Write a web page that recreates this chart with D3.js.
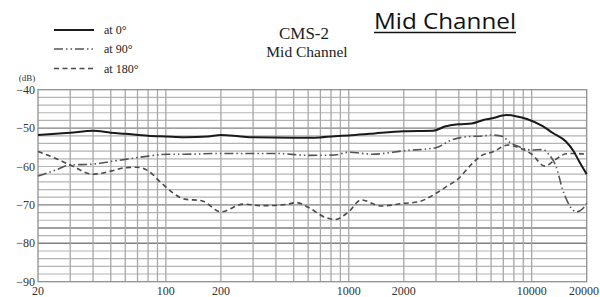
<!DOCTYPE html>
<html><head><meta charset="utf-8">
<script src="https://cdn.jsdelivr.net/npm/d3@7"></script>
<style>html,body{margin:0;padding:0;background:#fff;}svg{display:block;}</style>
</head><body>
<svg id="c" width="600" height="297"></svg>
<script>
// ---- data ----
const freq0 = [20,25,30,40,50,60,80,100,127,170,200,250,300,500,650,840,1000,1300,2000,2900,3350,4000,4700,5500,6000,7300,8200,9500,11500,13000,15400,17000,18200,20000];
const db0   = [-51.8,-51.5,-51.2,-50.7,-51.2,-51.5,-52.0,-52.2,-52.4,-52.2,-51.8,-52.1,-52.4,-52.5,-52.5,-52.1,-51.9,-51.5,-50.8,-50.7,-49.6,-49.0,-48.8,-47.8,-47.5,-46.6,-46.9,-47.7,-49.5,-51.2,-53.5,-56.1,-58.7,-62.0];
const freq90 = [20,25,30,40,50,65,80,103,127,200,400,600,840,1000,1350,2000,3000,3650,4300,5500,6000,7000,7400,8500,10000,11500,12500,13600,14800,16500,17600,19000,20000];
const db90   = [-62.5,-60.9,-59.6,-59.4,-58.7,-57.9,-57.3,-56.8,-56.8,-56.6,-56.6,-57.1,-57.0,-56.3,-56.8,-55.9,-55.1,-53.1,-52.3,-52.0,-51.8,-52.2,-53.3,-54.8,-55.7,-55.6,-57.0,-60.0,-66.1,-70.9,-71.8,-71.0,-69.6];
const freq180 = [20,25,30,40,50,60,70,80,95,127,157,200,265,335,450,520,600,740,840,1000,1170,1500,2000,2400,3000,3400,3950,4650,5260,6200,7400,8400,10000,11800,13400,15400,17000,20000];
const db180   = [-56.1,-57.9,-59.6,-62.0,-61.2,-60.3,-60.2,-61.1,-64.4,-68.5,-68.9,-71.8,-69.8,-70.2,-69.9,-69.4,-70.6,-73.2,-73.8,-71.8,-68.7,-70.3,-69.6,-69.2,-67.0,-65.3,-63.3,-59.6,-57.3,-56.1,-54.4,-55.0,-56.8,-59.9,-58.3,-56.7,-56.6,-56.8];
const seriesNames = ["at 0°","at 90°","at 180°"];
const xTickLabels = [20,100,200,1000,2000,10000,20000];
const yTickLabels = [-40,-50,-60,-70,-80,-90];
const xGrid = [30,40,50,60,70,80,90,100,200,300,400,500,600,700,800,900,1000,2000,3000,4000,5000,6000,7000,8000,9000,10000];
const yGrid = d3.range(-88,-40,2);
const yGridDark = [-50,-70,-76,-80];

// ---- layout ----
const svg = d3.select("#c");
const L=38, R=586.7, T=89.7, B=281.7;
const x = d3.scaleLog().domain([20,20000]).range([L,R]);
const y = d3.scaleLinear().domain([-90,-40]).range([B,T]);

const serif = "'Liberation Serif','DejaVu Serif',serif";

// grid
const g = svg.append("g");
g.selectAll("line.h").data(yGrid).enter().append("line")
  .attr("x1",L).attr("x2",R).attr("y1",d=>y(d)).attr("y2",d=>y(d))
  .attr("stroke",d=>yGridDark.includes(d)?"#808080":"#b4b4b4")
  .attr("stroke-width",d=>yGridDark.includes(d)?1.4:1.2);
g.selectAll("line.v").data(xGrid).enter().append("line")
  .attr("y1",T).attr("y2",B).attr("x1",d=>x(d)).attr("x2",d=>x(d))
  .attr("stroke","#a8a8a8").attr("stroke-width",1.3);
g.append("rect").attr("x",L).attr("y",T).attr("width",R-L).attr("height",B-T)
  .attr("fill","none").attr("stroke","#909090").attr("stroke-width",1.3);

// axes labels
svg.append("g").selectAll("text").data(yTickLabels).enter().append("text")
  .attr("x",35).attr("y",d=>y(d)+4).attr("text-anchor","end")
  .attr("font-family",serif).attr("font-size",12).attr("fill","#333")
  .text(d=>"−"+Math.abs(d));
svg.append("text").attr("x",27).attr("y",81).attr("text-anchor","middle")
  .attr("font-family",serif).attr("font-size",9).attr("fill","#333").text("(dB)");
svg.append("g").selectAll("text").data(xTickLabels).enter().append("text")
  .attr("x",d=>d===20000?599:x(d)).attr("y",295)
  .attr("text-anchor",d=>d===20000?"end":"middle")
  .attr("font-family",serif).attr("font-size",12).attr("fill","#333")
  .text(d=>d);

// lines
const styles = [
  {stroke:"#1a1a1a", width:2, dash:null},
  {stroke:"#555", width:1.6, dash:"9,3,1.5,3,1.5,3"},
  {stroke:"#4a4a4a", width:1.6, dash:"5,3.5"}
];
const data = [
  freq0.map((f,i)=>[f,db0[i]]),
  freq90.map((f,i)=>[f,db90[i]]),
  freq180.map((f,i)=>[f,db180[i]])
];
const line = d3.line().x(d=>x(d[0])).y(d=>y(d[1])).curve(d3.curveMonotoneX);
[2,1,0].forEach(i=>{
  svg.append("path").datum(data[i]).attr("d",line).attr("fill","none")
    .attr("stroke",styles[i].stroke).attr("stroke-width",styles[i].width)
    .attr("stroke-dasharray",styles[i].dash);
});

// legend
const legY=[30,49,68.5];
seriesNames.forEach((n,i)=>{
  svg.append("line").attr("x1",54).attr("x2",94).attr("y1",legY[i]).attr("y2",legY[i])
    .attr("stroke",styles[i].stroke).attr("stroke-width",styles[i].width)
    .attr("stroke-dasharray",styles[i].dash);
  svg.append("text").attr("x",104).attr("y",legY[i]+4).attr("font-family",serif)
    .attr("font-size",12).attr("fill","#222").text(n);
});

// titles
svg.append("text").attr("x",304).attr("y",39).attr("text-anchor","middle")
  .attr("font-family",serif).attr("font-size",17).attr("fill","#222").text("CMS-2");
svg.append("text").attr("x",307).attr("y",57).attr("text-anchor","middle")
  .attr("font-family",serif).attr("font-size",15.5).attr("fill","#222").text("Mid Channel");
svg.append("text").attr("x",374).attr("y",29).attr("textLength",142).attr("lengthAdjust","spacingAndGlyphs")
  .attr("font-family","'Open Sans','DejaVu Sans',sans-serif").attr("font-size",21).attr("fill","#111").text("Mid Channel");
svg.append("line").attr("x1",374).attr("x2",516).attr("y1",32.5).attr("y2",32.5)
  .attr("stroke","#111").attr("stroke-width",1.3);
</script>
</body></html>
